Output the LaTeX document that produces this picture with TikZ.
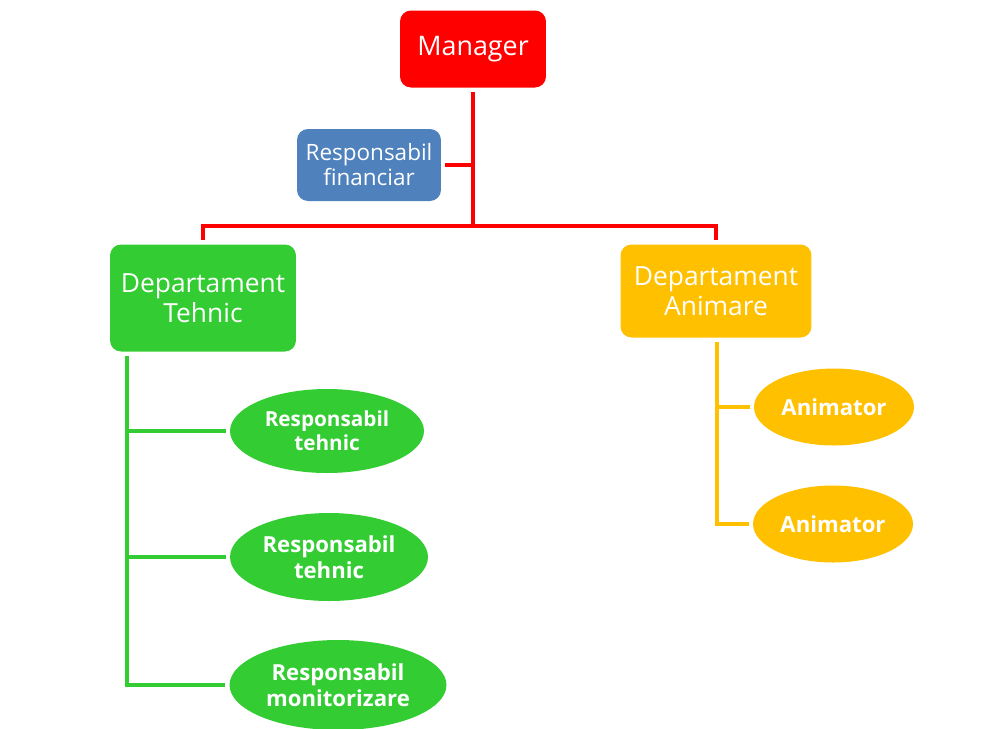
\documentclass[tikz,border=0pt]{standalone}
\usepackage{fontspec}
\setmainfont{Open Sans}
\usetikzlibrary{shapes.geometric}
\definecolor{mgrred}{HTML}{FF0000}
\definecolor{finblue}{HTML}{4F81BD}
\definecolor{tehgreen}{HTML}{33CC33}
\definecolor{animyellow}{HTML}{FFC000}
\begin{document}
\begin{tikzpicture}[x=0.02cm,y=-0.02cm,
  box/.style={rectangle,rounded corners=0.22cm,text=white,align=center,inner sep=0pt},
  oval/.style={ellipse,text=white,align=center,inner sep=0pt,font=\bfseries\fontsize{11.8}{13.5}\selectfont},
  redline/.style={draw=mgrred,line width=2.3pt},
  greenline/.style={draw=tehgreen,line width=2pt},
  yellowline/.style={draw=animyellow,line width=2pt}]
\useasboundingbox (0,0) rectangle (986,728);
\node[box,fill=mgrred,minimum width=2.92cm,minimum height=1.54cm,font=\fontsize{15.3}{17}\selectfont] (mgr) at (473,49) {Manager};
\node[box,fill=finblue,minimum width=2.88cm,minimum height=1.44cm,font=\fontsize{12.8}{14.2}\selectfont] (fin) at (369,165) {Responsabil\\financiar};
\node[box,fill=tehgreen,minimum width=3.72cm,minimum height=2.14cm,font=\fontsize{15}{17}\selectfont] (teh) at (203,298) {Departament\\Tehnic};
\node[box,fill=animyellow,minimum width=3.82cm,minimum height=1.86cm,font=\fontsize{15}{17}\selectfont] (anim) at (716,291) {Departament\\Animare};
\node[oval,fill=tehgreen,minimum width=3.88cm,minimum height=1.68cm] (rt1) at (327,431) {Responsabil\\tehnic};
\node[oval,fill=tehgreen,minimum width=3.96cm,minimum height=1.76cm,font=\bfseries\fontsize{12.6}{14.6}\selectfont] (rt2) at (329,557) {Responsabil\\tehnic};
\node[oval,fill=tehgreen,minimum width=4.34cm,minimum height=1.8cm,font=\bfseries\fontsize{12.6}{14.6}\selectfont] (rm) at (338,685) {Responsabil\\monitorizare};
\node[oval,fill=animyellow,minimum width=3.2cm,minimum height=1.54cm,font=\bfseries\fontsize{12.6}{14}\selectfont] (an1) at (834,407) {Animator};
\node[oval,fill=animyellow,minimum width=3.2cm,minimum height=1.54cm,font=\bfseries\fontsize{12.6}{14}\selectfont] (an2) at (833,524) {Animator};
\coordinate (bus) at (473,226);
\coordinate (gtop) at (127,356);
\coordinate (ytop) at (717,342);
\draw[redline,shorten <=2.3pt] (mgr.south) -- (bus);
\draw[redline,shorten <=2.3pt] (fin.east) -- (fin.east -| bus);
\draw[redline,shorten <=2.3pt,shorten >=2.3pt] (teh.north) |- (bus) -| (anim.north);
\draw[greenline,shorten >=2.3pt] (gtop) |- (rm.west);
\draw[greenline,shorten >=2.3pt] (gtop |- rt1.west) -- (rt1.west);
\draw[greenline,shorten >=2.3pt] (gtop |- rt2.west) -- (rt2.west);
\draw[yellowline,shorten >=2.3pt] (ytop) |- (an2.west);
\draw[yellowline,shorten >=2.3pt] (ytop |- an1.west) -- (an1.west);
\end{tikzpicture}
\end{document}
